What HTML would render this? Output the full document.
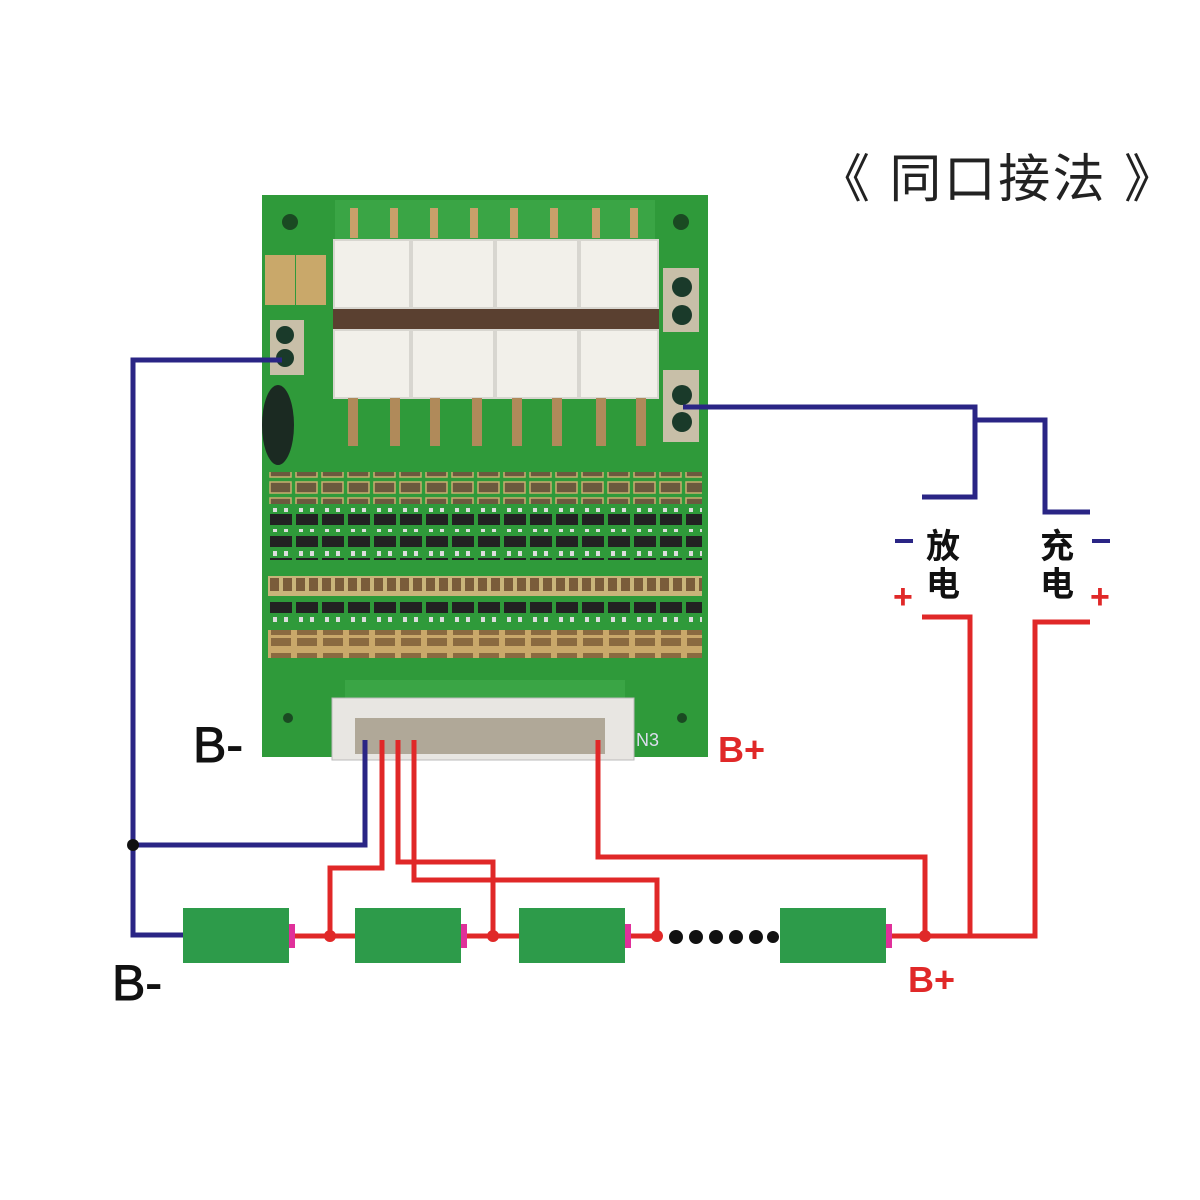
<!DOCTYPE html>
<html><head><meta charset="utf-8"><style>
html,body{margin:0;padding:0;background:#fff;}
svg{display:block}
text{font-family:"Liberation Sans","Noto Sans CJK SC",sans-serif;}
</style></head><body>
<svg width="1200" height="1200" viewBox="0 0 1200 1200" xmlns="http://www.w3.org/2000/svg">
<defs>
<pattern id="res" x="268" y="0" width="26" height="16" patternUnits="userSpaceOnUse">
<rect width="26" height="16" fill="#2f9a3a"/><rect x="2" y="2" width="21" height="11" fill="#6b5a3e" stroke="#c8b070" stroke-width="1.5"/></pattern>
<pattern id="chip" x="268" y="0" width="26" height="22" patternUnits="userSpaceOnUse">
<rect width="26" height="22" fill="#2f9a3a"/><rect x="5" y="1" width="4" height="5" fill="#ddd"/><rect x="16" y="1" width="4" height="5" fill="#ddd"/><rect x="2" y="8" width="22" height="11" fill="#222"/></pattern>
<pattern id="cap" x="268" y="0" width="13" height="18" patternUnits="userSpaceOnUse">
<rect width="13" height="18" fill="#c9b47a"/><rect x="2" y="2" width="9" height="13" fill="#7a5c3a"/></pattern>
<pattern id="cap2" x="268" y="0" width="26" height="26" patternUnits="userSpaceOnUse">
<rect width="26" height="26" fill="#c9a86a"/><rect x="3" y="3" width="20" height="8" fill="#8a6a40"/><rect x="3" y="14" width="20" height="8" fill="#8a6a40"/></pattern>
</defs>
<rect width="1200" height="1200" fill="#fff"/>
<text x="818" y="197" font-size="52" fill="#222" textLength="358" lengthAdjust="spacing">《 同口接法 》</text>

<!-- PCB -->
<rect x="262" y="195" width="446" height="562" fill="#2f9a3a"/>
<circle cx="290" cy="222" r="8" fill="#1a4a22"/><circle cx="681" cy="222" r="8" fill="#1a4a22"/>
<circle cx="288" cy="718" r="5" fill="#1a4a22"/><circle cx="682" cy="718" r="5" fill="#1a4a22"/>
<rect x="265" y="255" width="30" height="50" fill="#c9a86a"/><rect x="296" y="255" width="30" height="50" fill="#c9a86a"/>
<rect x="270" y="320" width="34" height="55" fill="#c8bfa8"/><circle cx="285" cy="335" r="9" fill="#1a3a2a"/><circle cx="285" cy="358" r="9" fill="#1a3a2a"/>
<ellipse cx="278" cy="425" rx="16" ry="40" fill="#1b2a22"/>
<rect x="663" y="268" width="36" height="64" fill="#c8bfa8"/><circle cx="682" cy="287" r="10" fill="#1a3a2a"/><circle cx="682" cy="315" r="10" fill="#1a3a2a"/>
<rect x="663" y="370" width="36" height="72" fill="#c8bfa8"/><circle cx="682" cy="395" r="10" fill="#1a3a2a"/><circle cx="682" cy="422" r="10" fill="#1a3a2a"/>
<rect x="335" y="200" width="320" height="40" fill="#3aa545"/>
<g fill="#c9a06a"><rect x="350" y="208" width="8" height="30"/><rect x="390" y="208" width="8" height="30"/><rect x="430" y="208" width="8" height="30"/><rect x="470" y="208" width="8" height="30"/><rect x="510" y="208" width="8" height="30"/><rect x="550" y="208" width="8" height="30"/><rect x="592" y="208" width="8" height="30"/><rect x="630" y="208" width="8" height="30"/></g>
<rect x="333" y="300" width="326" height="44" fill="#5a4030"/>
<g fill="#f2f0ea" stroke="#d8d6d0" stroke-width="2">
<rect x="334" y="240" width="76" height="68"/><rect x="412" y="240" width="82" height="68"/><rect x="496" y="240" width="82" height="68"/><rect x="580" y="240" width="78" height="68"/>
<rect x="334" y="330" width="76" height="68"/><rect x="412" y="330" width="82" height="68"/><rect x="496" y="330" width="82" height="68"/><rect x="580" y="330" width="78" height="68"/>
</g>
<g fill="#b08a5a"><rect x="348" y="398" width="10" height="48"/><rect x="390" y="398" width="10" height="48"/><rect x="430" y="398" width="10" height="48"/><rect x="472" y="398" width="10" height="48"/><rect x="512" y="398" width="10" height="48"/><rect x="552" y="398" width="10" height="48"/><rect x="596" y="398" width="10" height="48"/><rect x="636" y="398" width="10" height="48"/></g>
<rect x="268" y="472" width="434" height="32" fill="url(#res)"/>
<rect x="268" y="508" width="434" height="24" fill="url(#chip)"/>
<rect x="268" y="536" width="434" height="24" fill="url(#chip)"/>
<rect x="268" y="576" width="434" height="20" fill="url(#cap)"/>
<rect x="268" y="600" width="434" height="24" fill="url(#chip)"/>
<rect x="268" y="630" width="434" height="28" fill="url(#cap2)"/>
<rect x="345" y="680" width="280" height="20" fill="#3aa545"/>
<rect x="332" y="698" width="302" height="62" fill="#e8e6e2" stroke="#bbb"/>
<rect x="355" y="718" width="250" height="36" fill="#b0a898"/>
<text x="636" y="746" font-size="18" fill="#dde">N3</text>

<!-- blue wires -->
<g stroke="#2a2585" stroke-width="5" fill="none">
<polyline points="282,360 133,360 133,935 184,935"/>
<polyline points="133,845 365,845 365,740"/>
<polyline points="683,407 975,407 975,497 922,497"/>
<polyline points="975,420 1045,420 1045,512 1090,512"/>
</g>
<circle cx="133" cy="845" r="6" fill="#111"/>
<!-- red wires -->
<g stroke="#e02828" stroke-width="5" fill="none">
<polyline points="382,740 382,868 330,868 330,936"/>
<polyline points="398,740 398,862 493,862 493,936"/>
<polyline points="414,740 414,880 657,880 657,936"/>
<polyline points="598,740 598,857 925,857 925,936"/>
<polyline points="288,936 355,936"/><polyline points="460,936 520,936"/><polyline points="625,936 660,936"/>
<polyline points="885,936 1035,936 1035,622 1090,622"/>
<polyline points="922,617 970,617 970,936"/>
</g>
<g fill="#e02828"><circle cx="330" cy="936" r="6"/><circle cx="493" cy="936" r="6"/><circle cx="657" cy="936" r="6"/><circle cx="925" cy="936" r="6"/></g>
<!-- batteries -->
<g fill="#2d9b4a"><rect x="183" y="908" width="106" height="55"/><rect x="355" y="908" width="106" height="55"/><rect x="519" y="908" width="106" height="55"/><rect x="780" y="908" width="106" height="55"/></g>
<g fill="#e0309a"><rect x="289" y="924" width="6" height="24"/><rect x="461" y="924" width="6" height="24"/><rect x="625" y="924" width="6" height="24"/><rect x="886" y="924" width="6" height="24"/></g>
<g fill="#111"><circle cx="676" cy="937" r="7"/><circle cx="696" cy="937" r="7"/><circle cx="716" cy="937" r="7"/><circle cx="736" cy="937" r="7"/><circle cx="756" cy="937" r="7"/><circle cx="773" cy="937" r="6"/></g>

<!-- labels -->
<text x="193" y="762" font-size="50" fill="#111" stroke="#111" stroke-width="1">B-</text>
<text x="718" y="762" font-size="36" font-weight="bold" fill="#e02828">B+</text>
<text x="112" y="1000" font-size="50" fill="#111" stroke="#111" stroke-width="1">B-</text>
<text x="908" y="992" font-size="36" font-weight="bold" fill="#e02828">B+</text>
<text x="926" y="558" font-size="34" font-weight="bold" fill="#111">放</text>
<text x="926" y="596" font-size="34" font-weight="bold" fill="#111">电</text>
<text x="1040" y="558" font-size="34" font-weight="bold" fill="#111">充</text>
<text x="1040" y="596" font-size="34" font-weight="bold" fill="#111">电</text>
<rect x="895" y="539" width="18" height="4" fill="#2a2585"/>
<rect x="1092" y="539" width="18" height="4" fill="#2a2585"/>
<text x="893" y="608" font-size="34" font-weight="bold" fill="#e02828">+</text>
<text x="1090" y="608" font-size="34" font-weight="bold" fill="#e02828">+</text>
</svg>
</body></html>
